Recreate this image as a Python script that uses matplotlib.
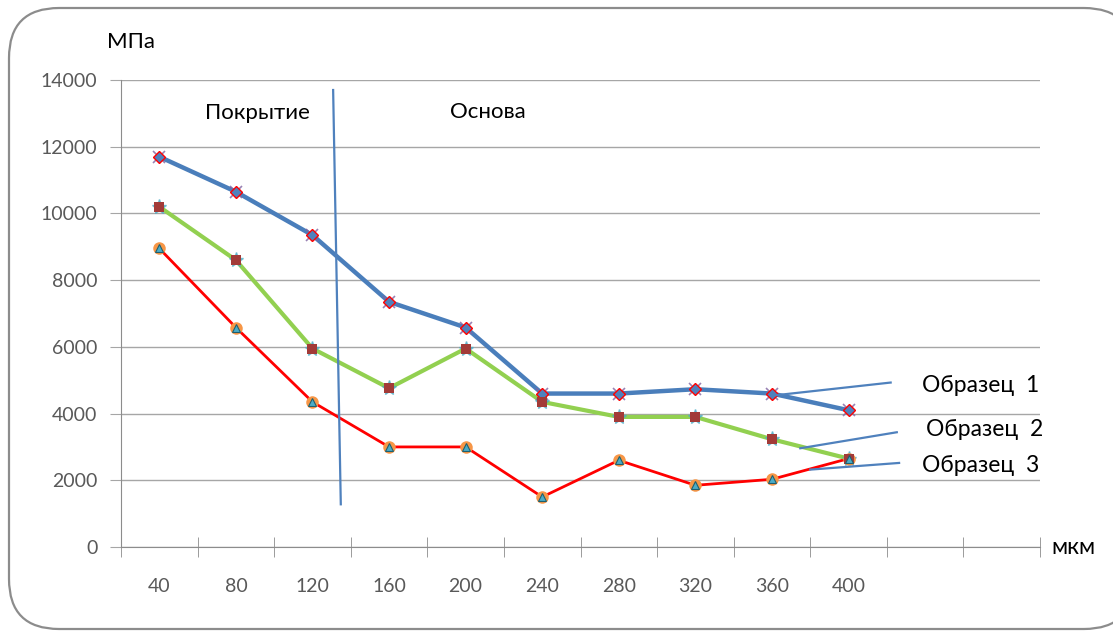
import numpy as np
import matplotlib
matplotlib.use('Agg')
import matplotlib.pyplot as plt
from matplotlib.patches import FancyBboxPatch

plt.rcParams['font.family'] = ['Lato', 'Open Sans', 'DejaVu Sans']

# depth, мкм
depth = ['40', '80', '120', '160', '200', '240', '280', '320', '360', '400']
n_slots = 12  # two empty categories after 400

sample1 = [11700, 10650, 9350, 7350, 6580, 4600, 4600, 4730, 4600, 4100]
sample2 = [10200, 8600, 5950, 4760, 5950, 4350, 3900, 3900, 3230, 2650]
sample3 = [8950, 6580, 4350, 3000, 3000, 1500, 2600, 1850, 2030, 2650]

# boundary between coating and base (x in category units, y in MPa)
border_x = [2.27, 2.37]
border_y = [13700, 1280]

# leader lines from series to their labels
leaders = {
    'Образец  1': ([8.05, 9.55], [4550, 4930]),
    'Образец  2': ([8.37, 9.63], [2960, 3440]),
    'Образец  3': ([8.5, 9.66], [2320, 2520]),
}
label_pos = {'Образец  1': (9.96, 4830), 'Образец  2': (10.01, 3510), 'Образец  3': (9.96, 2430)}

W, H = 1113, 632
fig = plt.figure(figsize=(W / 100, H / 100), dpi=100)
ax = fig.add_axes([121 / W, 1 - 547 / H, 919 / W, 467 / H])

# rounded frame around the chart
frame = FancyBboxPatch((9 / W, 1 - 629 / H), 1125 / W, 621 / H,
                       boxstyle='round,pad=0,rounding_size=0.045',
                       transform=fig.transFigure, facecolor='white',
                       edgecolor='#8c8c8c', linewidth=1.6, zorder=-10,
                       mutation_aspect=W / H)
fig.patches.append(frame)

x = np.arange(len(depth))

ax.plot(x, sample1, color='#4a7ebb', lw=3.2, zorder=5, solid_capstyle='round')
ax.plot(x, sample1, 'x', color='#8064a2', ms=9, mew=1.2, zorder=6, alpha=0.8)
ax.plot(x, sample1, 'D', color='#4f81bd', mec='#ff0000', ms=6, mew=1, zorder=7)

ax.plot(x, sample2, color='#92d050', lw=3, zorder=4)
ax.plot(x, sample2, '*', color='#4bacc6', ms=11, zorder=6, alpha=0.7)
ax.plot(x, sample2, 's', color='#a23b38', ms=7, mew=0, zorder=7)

ax.plot(x, sample3, color='#ff0000', lw=2, zorder=3)
ax.plot(x, sample3, 'o', color='#f79646', ms=9, mew=0, zorder=6)
ax.plot(x, sample3, '^', color='#4bacc6', mec='#1f5f6e', ms=6, mew=0.8, zorder=7)

ax.plot(border_x, border_y, color='#4f81bd', lw=1.6, zorder=8)
for name, (lx, ly) in leaders.items():
    ax.plot(lx, ly, color='#4f81bd', lw=1.6, zorder=8)
    ax.text(label_pos[name][0], label_pos[name][1], name, fontsize=16.5,
            color='black', va='center', ha='left', zorder=9)

ax.text(0.6, 13010, 'Покрытие', fontsize=16, va='center')
ax.text(3.8, 13040, 'Основа', fontsize=16, va='center')

ax.set_xlim(-0.5, n_slots - 0.5)
ax.set_ylim(0, 14000)
ax.set_yticks(np.arange(0, 14001, 2000))
ax.yaxis.grid(True, color='#a6a6a6', lw=1)
ax.set_axisbelow(True)

ax.set_xticks(x)
ax.set_xticklabels(depth)
ax.set_xticks(np.arange(-0.5, n_slots, 1), minor=True)
ax.tick_params(axis='x', which='major', length=0, pad=22, labelsize=14, labelcolor='#595959')
ax.tick_params(axis='x', which='minor', direction='inout', length=14, color='#8c8c8c')
ax.tick_params(axis='y', direction='out', length=8, color='#a6a6a6', pad=9,
               labelsize=14, labelcolor='#595959')

for side in ['top', 'right']:
    ax.spines[side].set_visible(False)
ax.spines['left'].set_color('#8c8c8c')
ax.spines['bottom'].set_color('#8c8c8c')

fig.text(107 / W, 1 - 42 / H, 'МПа', fontsize=16, va='center', ha='left')
fig.text(1051 / W, 1 - 548 / H, 'мкм', fontsize=16.5, va='center', ha='left')

fig.savefig('out.png', dpi=100)
